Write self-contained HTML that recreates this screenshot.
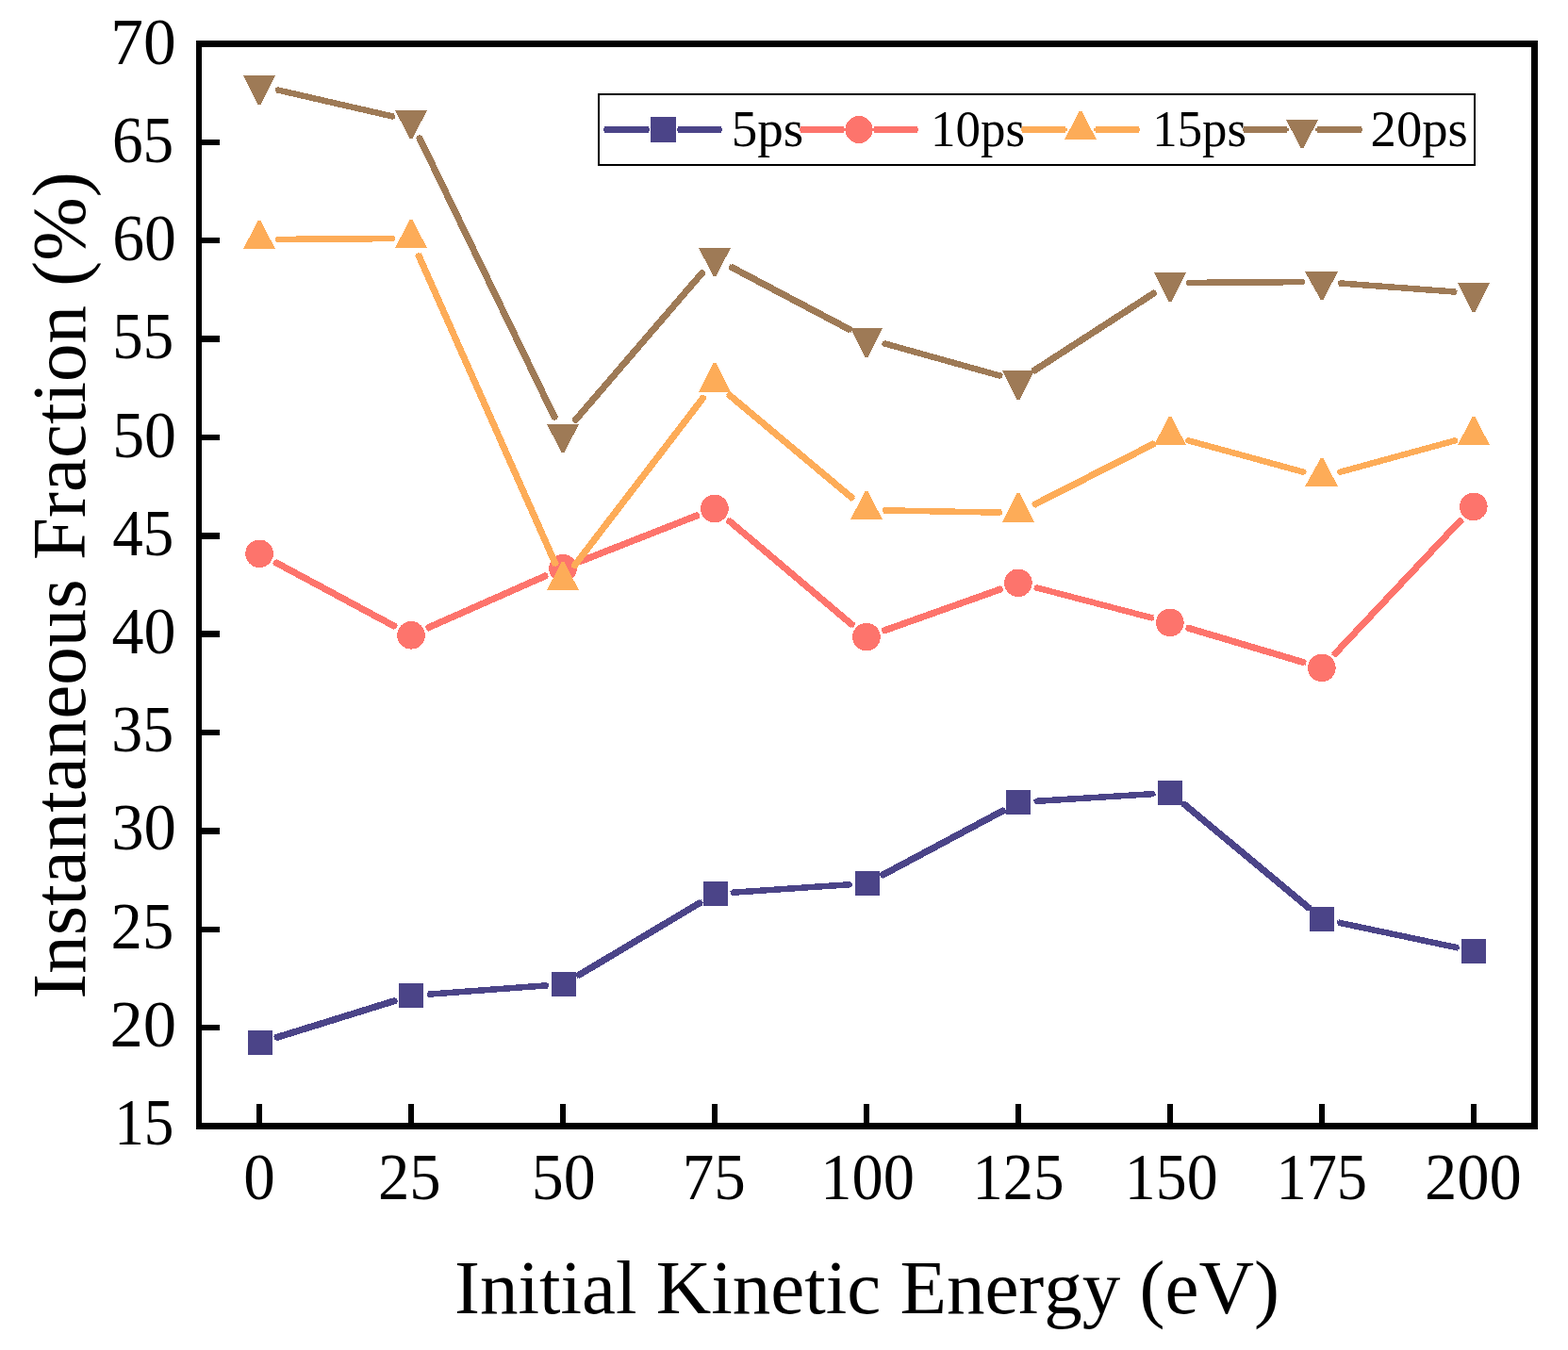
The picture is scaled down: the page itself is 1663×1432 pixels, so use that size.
<!DOCTYPE html>
<html lang="en">
<head>
<meta charset="utf-8">
<title>Instantaneous Fraction vs Initial Kinetic Energy</title>
<style>
html, body { margin: 0; padding: 0; background: #ffffff; }
body { width: 1663px; height: 1432px; overflow: hidden; }
svg { display: block; }
text { font-kerning: none; }
</style>
</head>
<body>
<svg width="1663" height="1432" viewBox="0 0 1663 1432" font-family="'Liberation Serif', 'Times New Roman', Times, serif">
<rect x="0" y="0" width="1663" height="1432" fill="#ffffff"/>
<g id="series" shape-rendering="crispEdges">
<g class="s-b">
<line x1="292.11" y1="1100.90" x2="420.23" y2="1061.10" stroke="#4B4488" stroke-width="7.1"/>
<line x1="290.97" y1="1101.25" x2="421.37" y2="1060.75" stroke="#4B4488" stroke-width="4.5"/>
<line x1="453.80" y1="1054.72" x2="580.47" y2="1045.28" stroke="#4B4488" stroke-width="6.5"/>
<line x1="452.61" y1="1054.81" x2="581.66" y2="1045.19" stroke="#4B4488" stroke-width="3.9"/>
<line x1="612.39" y1="1035.19" x2="743.81" y2="956.81" stroke="#4B4488" stroke-width="7.1"/>
<line x1="611.36" y1="1035.80" x2="744.84" y2="956.20" stroke="#4B4488" stroke-width="4.5"/>
<line x1="775.74" y1="946.83" x2="902.39" y2="938.17" stroke="#4B4488" stroke-width="6.5"/>
<line x1="774.55" y1="946.91" x2="903.59" y2="938.09" stroke="#4B4488" stroke-width="3.9"/>
<line x1="934.72" y1="928.89" x2="1065.35" y2="859.11" stroke="#4B4488" stroke-width="7.1"/>
<line x1="933.66" y1="929.46" x2="1066.40" y2="858.54" stroke="#4B4488" stroke-width="4.5"/>
<line x1="1097.68" y1="849.93" x2="1224.31" y2="842.07" stroke="#4B4488" stroke-width="6.5"/>
<line x1="1096.49" y1="850.01" x2="1225.51" y2="841.99" stroke="#4B4488" stroke-width="3.9"/>
<line x1="1254.70" y1="852.00" x2="1389.23" y2="964.00" stroke="#4B4488" stroke-width="7.1"/>
<line x1="1253.78" y1="851.24" x2="1390.15" y2="964.76" stroke="#4B4488" stroke-width="4.5"/>
<line x1="1419.28" y1="978.55" x2="1546.58" y2="1005.45" stroke="#4B4488" stroke-width="6.5"/>
<line x1="1418.10" y1="978.31" x2="1547.76" y2="1005.69" stroke="#4B4488" stroke-width="3.9"/>
<rect x="263.00" y="1093.00" width="26.0" height="26.0" fill="#4B4488"/>
<rect x="423.00" y="1043.00" width="26.0" height="26.0" fill="#4B4488"/>
<rect x="585.00" y="1031.00" width="26.0" height="26.0" fill="#4B4488"/>
<rect x="746.00" y="935.00" width="26.0" height="26.0" fill="#4B4488"/>
<rect x="907.00" y="924.00" width="26.0" height="26.0" fill="#4B4488"/>
<rect x="1067.00" y="838.00" width="26.0" height="26.0" fill="#4B4488"/>
<rect x="1228.00" y="828.00" width="26.0" height="26.0" fill="#4B4488"/>
<rect x="1389.00" y="962.00" width="26.0" height="26.0" fill="#4B4488"/>
<rect x="1550.00" y="996.00" width="26.0" height="26.0" fill="#4B4488"/>
</g>
<g class="s-r">
<line x1="291.47" y1="596.10" x2="419.67" y2="665.00" stroke="#FD746C" stroke-width="7.1"/>
<line x1="290.41" y1="595.54" x2="420.73" y2="665.56" stroke="#FD746C" stroke-width="4.5"/>
<line x1="453.07" y1="666.28" x2="580.00" y2="610.22" stroke="#FD746C" stroke-width="7.1"/>
<line x1="451.97" y1="666.77" x2="581.10" y2="609.73" stroke="#FD746C" stroke-width="4.5"/>
<line x1="614.33" y1="595.90" x2="740.67" y2="546.30" stroke="#FD746C" stroke-width="7.1"/>
<line x1="613.21" y1="596.34" x2="741.79" y2="545.86" stroke="#FD746C" stroke-width="4.5"/>
<line x1="772.19" y1="551.51" x2="904.75" y2="663.59" stroke="#FD746C" stroke-width="7.1"/>
<line x1="771.27" y1="550.73" x2="905.66" y2="664.37" stroke="#FD746C" stroke-width="4.5"/>
<line x1="936.47" y1="669.36" x2="1062.39" y2="624.54" stroke="#FD746C" stroke-width="7.1"/>
<line x1="935.34" y1="669.76" x2="1063.52" y2="624.14" stroke="#FD746C" stroke-width="4.5"/>
<line x1="1097.91" y1="623.01" x2="1222.89" y2="655.69" stroke="#FD746C" stroke-width="6.5"/>
<line x1="1096.75" y1="622.70" x2="1224.05" y2="656.00" stroke="#FD746C" stroke-width="3.9"/>
<line x1="1258.71" y1="665.72" x2="1384.02" y2="703.08" stroke="#FD746C" stroke-width="7.1"/>
<line x1="1257.56" y1="665.37" x2="1385.17" y2="703.43" stroke="#FD746C" stroke-width="4.5"/>
<line x1="1414.60" y1="694.86" x2="1550.06" y2="550.94" stroke="#FD746C" stroke-width="7.1"/>
<line x1="1413.77" y1="695.73" x2="1550.89" y2="550.07" stroke="#FD746C" stroke-width="4.5"/>
<circle cx="275.09" cy="587.30" r="14.8" fill="#FD746C"/>
<circle cx="436.05" cy="673.80" r="14.8" fill="#FD746C"/>
<circle cx="597.02" cy="602.70" r="14.8" fill="#FD746C"/>
<circle cx="757.98" cy="539.50" r="14.8" fill="#FD746C"/>
<circle cx="918.95" cy="675.60" r="14.8" fill="#FD746C"/>
<circle cx="1079.92" cy="618.30" r="14.8" fill="#FD746C"/>
<circle cx="1240.88" cy="660.40" r="14.8" fill="#FD746C"/>
<circle cx="1401.85" cy="708.40" r="14.8" fill="#FD746C"/>
<circle cx="1562.81" cy="537.40" r="14.8" fill="#FD746C"/>
</g>
<g class="s-o">
<line x1="293.49" y1="253.89" x2="417.65" y2="253.11" stroke="#FDAC58" stroke-width="6.5"/>
<line x1="292.29" y1="253.89" x2="418.85" y2="253.11" stroke="#FDAC58" stroke-width="3.9"/>
<line x1="443.51" y1="269.82" x2="589.56" y2="599.18" stroke="#FDAC58" stroke-width="7.1"/>
<line x1="443.02" y1="268.72" x2="590.05" y2="600.28" stroke="#FDAC58" stroke-width="4.5"/>
<line x1="608.21" y1="601.40" x2="746.79" y2="420.60" stroke="#FDAC58" stroke-width="7.1"/>
<line x1="607.48" y1="602.35" x2="747.52" y2="419.65" stroke="#FDAC58" stroke-width="4.5"/>
<line x1="772.08" y1="417.82" x2="904.85" y2="529.18" stroke="#FDAC58" stroke-width="7.1"/>
<line x1="771.16" y1="417.05" x2="905.77" y2="529.95" stroke="#FDAC58" stroke-width="4.5"/>
<line x1="937.35" y1="541.34" x2="1061.52" y2="543.66" stroke="#FDAC58" stroke-width="6.5"/>
<line x1="936.15" y1="541.32" x2="1062.72" y2="543.68" stroke="#FDAC58" stroke-width="3.9"/>
<line x1="1096.31" y1="535.65" x2="1224.49" y2="470.35" stroke="#FDAC58" stroke-width="7.1"/>
<line x1="1095.24" y1="536.19" x2="1225.56" y2="469.81" stroke="#FDAC58" stroke-width="4.5"/>
<line x1="1258.63" y1="466.85" x2="1384.10" y2="501.15" stroke="#FDAC58" stroke-width="6.5"/>
<line x1="1257.47" y1="466.54" x2="1385.26" y2="501.46" stroke="#FDAC58" stroke-width="3.9"/>
<line x1="1419.60" y1="501.15" x2="1545.06" y2="466.85" stroke="#FDAC58" stroke-width="6.5"/>
<line x1="1418.44" y1="501.46" x2="1546.22" y2="466.54" stroke="#FDAC58" stroke-width="3.9"/>
<polygon points="258.00,264.00 292.00,264.00 276.30,234.00 273.70,234.00" fill="#FDAC58"/>
<polygon points="419.00,263.00 453.00,263.00 437.30,233.00 434.70,233.00" fill="#FDAC58"/>
<polygon points="580.00,626.00 614.00,626.00 598.30,596.00 595.70,596.00" fill="#FDAC58"/>
<polygon points="741.00,416.00 775.00,416.00 759.30,385.00 756.70,385.00" fill="#FDAC58"/>
<polygon points="902.00,551.00 936.00,551.00 920.30,521.00 917.70,521.00" fill="#FDAC58"/>
<polygon points="1063.00,554.00 1097.00,554.00 1081.30,523.00 1078.70,523.00" fill="#FDAC58"/>
<polygon points="1224.00,472.00 1258.00,472.00 1242.30,442.00 1239.70,442.00" fill="#FDAC58"/>
<polygon points="1384.00,516.00 1419.00,516.00 1403.30,486.00 1400.70,486.00" fill="#FDAC58"/>
<polygon points="1546.00,472.00 1580.00,472.00 1564.30,442.00 1561.70,442.00" fill="#FDAC58"/>
</g>
<g class="s-n">
<line x1="293.21" y1="95.17" x2="417.93" y2="123.83" stroke="#9E7A56" stroke-width="6.5"/>
<line x1="292.04" y1="94.90" x2="419.09" y2="124.10" stroke="#9E7A56" stroke-width="3.9"/>
<line x1="444.15" y1="144.75" x2="588.92" y2="444.25" stroke="#9E7A56" stroke-width="7.1"/>
<line x1="443.62" y1="143.67" x2="589.45" y2="445.33" stroke="#9E7A56" stroke-width="4.5"/>
<line x1="609.15" y1="446.90" x2="745.85" y2="288.10" stroke="#9E7A56" stroke-width="7.1"/>
<line x1="608.37" y1="447.81" x2="746.63" y2="287.19" stroke="#9E7A56" stroke-width="4.5"/>
<line x1="774.43" y1="282.69" x2="902.50" y2="350.31" stroke="#9E7A56" stroke-width="7.1"/>
<line x1="773.37" y1="282.13" x2="903.56" y2="350.87" stroke="#9E7A56" stroke-width="4.5"/>
<line x1="936.86" y1="364.01" x2="1062.00" y2="398.99" stroke="#9E7A56" stroke-width="6.5"/>
<line x1="935.71" y1="363.68" x2="1063.16" y2="399.32" stroke="#9E7A56" stroke-width="3.9"/>
<line x1="1095.54" y1="393.91" x2="1225.26" y2="310.09" stroke="#9E7A56" stroke-width="7.1"/>
<line x1="1094.53" y1="394.56" x2="1226.27" y2="309.44" stroke="#9E7A56" stroke-width="4.5"/>
<line x1="1259.48" y1="299.88" x2="1383.25" y2="299.12" stroke="#9E7A56" stroke-width="6.5"/>
<line x1="1258.28" y1="299.89" x2="1384.45" y2="299.11" stroke="#9E7A56" stroke-width="3.9"/>
<line x1="1420.40" y1="300.38" x2="1544.27" y2="309.62" stroke="#9E7A56" stroke-width="6.5"/>
<line x1="1419.20" y1="300.29" x2="1545.46" y2="309.71" stroke="#9E7A56" stroke-width="3.9"/>
<polygon points="258.00,80.00 292.00,80.00 276.30,111.00 273.70,111.00" fill="#9E7A56"/>
<polygon points="419.00,117.00 453.00,117.00 437.30,147.00 434.70,147.00" fill="#9E7A56"/>
<polygon points="580.00,450.00 614.00,450.00 598.30,480.00 595.70,480.00" fill="#9E7A56"/>
<polygon points="741.00,263.00 775.00,263.00 759.30,293.00 756.70,293.00" fill="#9E7A56"/>
<polygon points="902.00,348.00 936.00,348.00 920.30,379.00 917.70,379.00" fill="#9E7A56"/>
<polygon points="1063.00,393.00 1097.00,393.00 1081.30,424.00 1078.70,424.00" fill="#9E7A56"/>
<polygon points="1224.00,289.00 1258.00,289.00 1242.30,320.00 1239.70,320.00" fill="#9E7A56"/>
<polygon points="1384.00,288.00 1419.00,288.00 1403.30,318.00 1400.70,318.00" fill="#9E7A56"/>
<polygon points="1546.00,300.00 1580.00,300.00 1564.30,331.00 1561.70,331.00" fill="#9E7A56"/>
</g>
</g>
<g id="axes" fill="#000000" shape-rendering="crispEdges">
<rect x="208" y="43" width="1423" height="7"/>
<rect x="208" y="1191" width="1423" height="7"/>
<rect x="208" y="43" width="6" height="1155"/>
<rect x="1624" y="43" width="7" height="1155"/>
<rect x="214" y="1086.89" width="19" height="6.5"/>
<rect x="214" y="982.52" width="19" height="6.5"/>
<rect x="214" y="878.16" width="19" height="6.5"/>
<rect x="214" y="773.80" width="19" height="6.5"/>
<rect x="214" y="669.43" width="19" height="6.5"/>
<rect x="214" y="565.07" width="19" height="6.5"/>
<rect x="214" y="460.70" width="19" height="6.5"/>
<rect x="214" y="356.34" width="19" height="6.5"/>
<rect x="214" y="251.98" width="19" height="6.5"/>
<rect x="214" y="147.61" width="19" height="6.5"/>
<rect x="272.09" y="1171" width="6" height="20"/>
<rect x="433.05" y="1171" width="6" height="20"/>
<rect x="594.02" y="1171" width="6" height="20"/>
<rect x="754.98" y="1171" width="6" height="20"/>
<rect x="915.95" y="1171" width="6" height="20"/>
<rect x="1076.92" y="1171" width="6" height="20"/>
<rect x="1237.88" y="1171" width="6" height="20"/>
<rect x="1398.85" y="1171" width="6" height="20"/>
<rect x="1559.81" y="1171" width="6" height="20"/>
</g>
<g id="ylabels" font-size="70px" fill="#000">
<text transform="translate(121.2,1213.9) scale(0.903,1)">15</text>
<text transform="translate(116.4,1109.7) scale(1.010,1)">20</text>
<text transform="translate(117.6,1005.5) scale(0.953,1)">25</text>
<text transform="translate(118.2,901.4) scale(0.983,1)">30</text>
<text transform="translate(118.3,797.2) scale(0.942,1)">35</text>
<text transform="translate(118.6,693.0) scale(0.972,1)">40</text>
<text transform="translate(119.2,588.8) scale(0.929,1)">45</text>
<text transform="translate(119.2,484.6) scale(0.969,1)">50</text>
<text transform="translate(119.3,380.4) scale(0.927,1)">55</text>
<text transform="translate(119.2,276.3) scale(0.968,1)">60</text>
<text transform="translate(118.9,172.1) scale(0.934,1)">65</text>
<text transform="translate(117.3,67.9) scale(0.992,1)">70</text>
</g>
<g id="xlabels" font-size="70px" fill="#000">
<text transform="translate(258.3,1271.5) scale(0.959,1)">0</text>
<text transform="translate(401.0,1271.5) scale(0.953,1)">25</text>
<text transform="translate(563.8,1271.5) scale(0.970,1)">50</text>
<text transform="translate(723.7,1271.5) scale(0.958,1)">75</text>
<text transform="translate(870.3,1271.5) scale(0.949,1)">100</text>
<text transform="translate(1031.6,1271.5) scale(0.922,1)">125</text>
<text transform="translate(1192.8,1271.5) scale(0.941,1)">150</text>
<text transform="translate(1353.4,1271.5) scale(0.921,1)">175</text>
<text transform="translate(1511.0,1271.5) scale(0.980,1)">200</text>
</g>
<g id="titles" font-size="81px" fill="#000" text-anchor="middle">
<text x="919.5" y="1393">Initial Kinetic Energy (eV)</text>
<text transform="translate(90,621) rotate(-90)">Instantaneous Fraction (%)</text>
</g>
<g id="legend">
<rect x="635" y="100" width="929" height="75" fill="#ffffff" stroke="#000000" stroke-width="2" shape-rendering="crispEdges"/>
<g shape-rendering="crispEdges">
<line x1="640.80" y1="137.50" x2="687.90" y2="137.50" stroke="#4B4488" stroke-width="6.5"/>
<line x1="639.60" y1="137.50" x2="689.10" y2="137.50" stroke="#4B4488" stroke-width="3.9"/>
<line x1="719.10" y1="137.50" x2="764.80" y2="137.50" stroke="#4B4488" stroke-width="6.5"/>
<line x1="717.90" y1="137.50" x2="766.00" y2="137.50" stroke="#4B4488" stroke-width="3.9"/>
<rect x="690.00" y="124.00" width="27.0" height="27.0" fill="#4B4488"/>
<line x1="849.20" y1="137.50" x2="895.40" y2="137.50" stroke="#FD746C" stroke-width="6.5"/>
<line x1="848.00" y1="137.50" x2="896.60" y2="137.50" stroke="#FD746C" stroke-width="3.9"/>
<line x1="926.60" y1="137.50" x2="972.70" y2="137.50" stroke="#FD746C" stroke-width="6.5"/>
<line x1="925.40" y1="137.50" x2="973.90" y2="137.50" stroke="#FD746C" stroke-width="3.9"/>
<circle cx="911.00" cy="137.50" r="14.5" fill="#FD746C"/>
<line x1="1084.30" y1="137.50" x2="1130.40" y2="137.50" stroke="#FDAC58" stroke-width="6.5"/>
<line x1="1083.10" y1="137.50" x2="1131.60" y2="137.50" stroke="#FDAC58" stroke-width="3.9"/>
<line x1="1161.60" y1="137.50" x2="1207.60" y2="137.50" stroke="#FDAC58" stroke-width="6.5"/>
<line x1="1160.40" y1="137.50" x2="1208.80" y2="137.50" stroke="#FDAC58" stroke-width="3.9"/>
<polygon points="1129.00,148.00 1163.00,148.00 1147.30,118.00 1144.70,118.00" fill="#FDAC58"/>
<line x1="1319.20" y1="137.50" x2="1365.40" y2="137.50" stroke="#9E7A56" stroke-width="6.5"/>
<line x1="1318.00" y1="137.50" x2="1366.60" y2="137.50" stroke="#9E7A56" stroke-width="3.9"/>
<line x1="1396.60" y1="137.50" x2="1443.70" y2="137.50" stroke="#9E7A56" stroke-width="6.5"/>
<line x1="1395.40" y1="137.50" x2="1444.90" y2="137.50" stroke="#9E7A56" stroke-width="3.9"/>
<polygon points="1364.00,127.00 1398.00,127.00 1382.30,157.00 1379.70,157.00" fill="#9E7A56"/>
</g>
<g font-size="54px" fill="#000">
<text transform="translate(775.7,155) scale(1.020,1)">5ps</text>
<text transform="translate(987.1,155) scale(0.980,1)">10ps</text>
<text transform="translate(1222.3,155) scale(0.977,1)">15ps</text>
<text transform="translate(1453.6,155) scale(1.012,1)">20ps</text>
</g>
</g>
</svg>
</body>
</html>
